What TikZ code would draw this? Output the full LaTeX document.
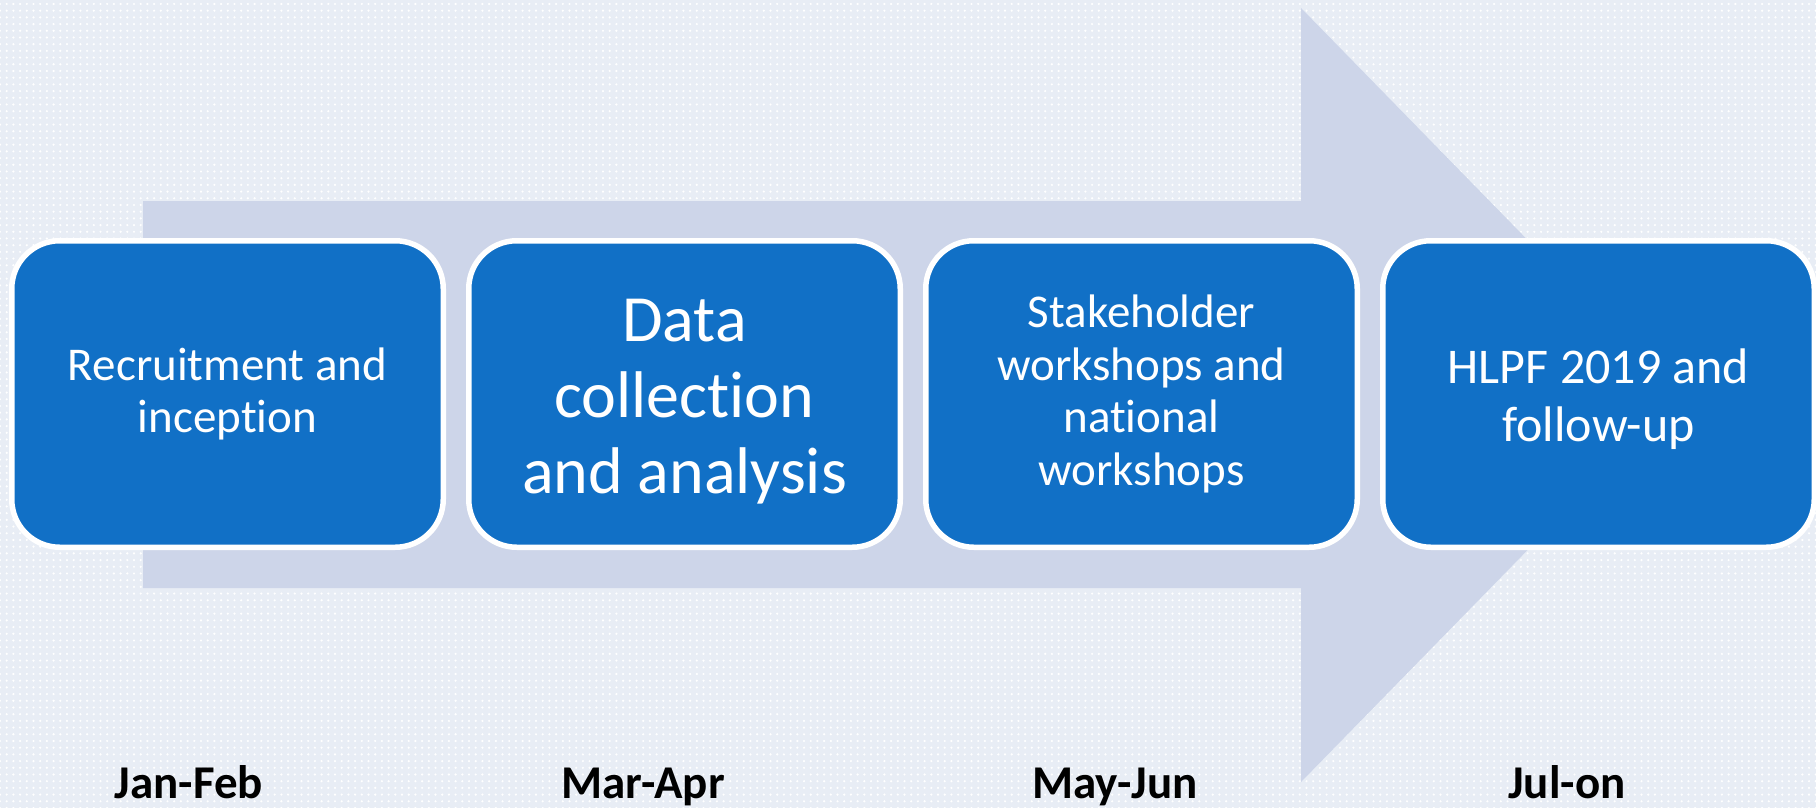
\documentclass[tikz,border=0pt]{standalone}
\usepackage{fontspec}
\setmainfont{Carlito}[Ligatures={NoCommon}]
\usetikzlibrary{positioning,patterns.meta}
\definecolor{boxblue}{RGB}{17,112,198}
\definecolor{arrowgrey}{RGB}{205,213,233}
\definecolor{backgr}{RGB}{232,237,245}
\tikzset{
    %Define style for boxes
    punktrect/.style={
    rectangle,
    rounded corners=48pt,
    fill=boxblue,
    draw=white, line width=5.5pt,
    minimum width=431.5pt,
    minimum height=306.5pt,
    text=white,
    align=center},
    %Define style for the month labels
    monat/.style={
    font=\fontsize{47pt}{52pt}\selectfont\bfseries,
    anchor=base}
}

\begin{document}
\begin{tikzpicture}[x=1pt,y=-1pt,node distance=20pt,main node/.style={punktrect}]
\useasboundingbox (0,0) rectangle (1816,808);
% background
\fill[backgr] (0,0) rectangle (1816,808);
\fill[pattern={Dots[distance=6.7pt,radius=1.2pt]},pattern color=white] (0,0) rectangle (1816,808);
% big arrow behind the boxes
\fill[arrowgrey] (143,201) -- (1301,201) -- (1301,8) -- (1679,395)
    -- (1301,782) -- (1301,588) -- (143,588) -- cycle;
\node[main node, font=\fontsize{47pt}{52pt}\selectfont](1) at (227.5,394){Recruitment and\\inception};
\node[main node, right=of 1, font=\fontsize{66pt}{76pt}\selectfont](2){\rule{0pt}{57pt}Data\\collection\\and analysis};
\node[main node, right=of 2, font=\fontsize{47pt}{52.5pt}\selectfont](3){Stakeholder\\workshops and\\national\\workshops};
\node[main node, right=of 3, font=\fontsize{50pt}{58pt}\selectfont](4){\rule{0pt}{45pt}HLPF 2019 and\\follow-up};
% months
\node[monat](jan) at (189,798){Jan-Feb};
\node[monat](mar) at (643,798){Mar-Apr};
\node[monat](may) at (1115,798){May-Jun};
\node[monat](jul) at (1567,798){Jul-on};
\end{tikzpicture}
\end{document}
